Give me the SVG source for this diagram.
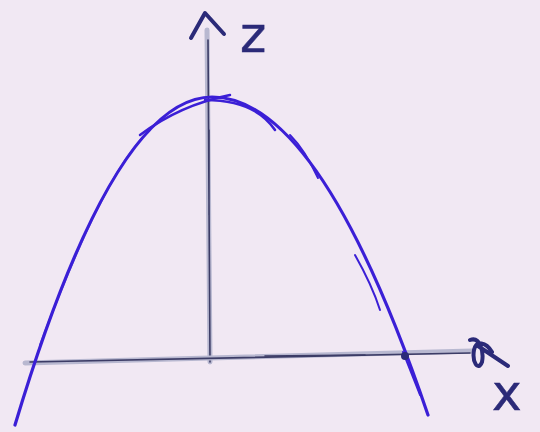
<svg xmlns="http://www.w3.org/2000/svg" width="540" height="432" viewBox="0 0 540 432">
<style>
.pen{fill:none;stroke:#3b1fd6;stroke-linecap:round;stroke-linejoin:round}
.axpale{fill:none;stroke:#b8b8d0;stroke-width:5;stroke-linecap:round}
.axdark{fill:none;stroke:#3c3c66;stroke-width:1.6;stroke-linecap:round}
.ink{fill:none;stroke:#2b2a78;stroke-width:4;stroke-linecap:round;stroke-linejoin:round}
.lbl{font-family:"DejaVu Sans","Liberation Sans",sans-serif;fill:#2b2a78;stroke:#2b2a78;stroke-width:0.5}
</style>
<rect width="540" height="432" fill="#f1e8f3"/>
<g id="axes">
<g id="z-axis">
<path class="axpale" d="M210,362 L207,30"/>
<path class="axdark" d="M210,362 L208,40 M209,130 L209,215"/>
<path class="ink" d="M191,38 L205,13 L224,34"/>
</g>
<g id="x-axis">
<path class="axpale" d="M25,363 L472,351"/>
<path class="axdark" d="M30,362 L470,353"/>
<path class="axdark" d="M265,356 L365,355"/>
<path class="ink" stroke-width="2.5" d="M470,340 C480,336 484,352 482,362 C478,372 472,362 474,350 C476,340 486,342 492,352 M478,346 L508,366"/>
</g>
</g>
<g id="curve">
<path class="pen" stroke-width="3.2" d="M15,425 Q113.5,97 212,97 Q320,97 428,415"/>
<path class="pen" stroke-width="2" d="M40,345 Q105,170 150,130" opacity="0.7"/>
<path class="pen" stroke-width="2.5" d="M140,135 Q180,105 230,95"/>
<path class="pen" stroke-width="2.5" d="M205,100 Q255,100 275,130"/>
<path class="pen" stroke-width="2" d="M290,135 Q305,150 318,178"/>
<path class="pen" stroke-width="2" d="M355,255 Q372,285 380,310"/>
<path class="pen" stroke-width="2" d="M403,352 L420,395"/>
<circle cx="405" cy="356" r="4" fill="#2b2a78"/>
</g>
<g id="labels">
<text class="lbl" x="240" y="52" font-size="50">z</text>
<text class="lbl" x="492" y="410" font-size="50">x</text>
</g>
</svg>
